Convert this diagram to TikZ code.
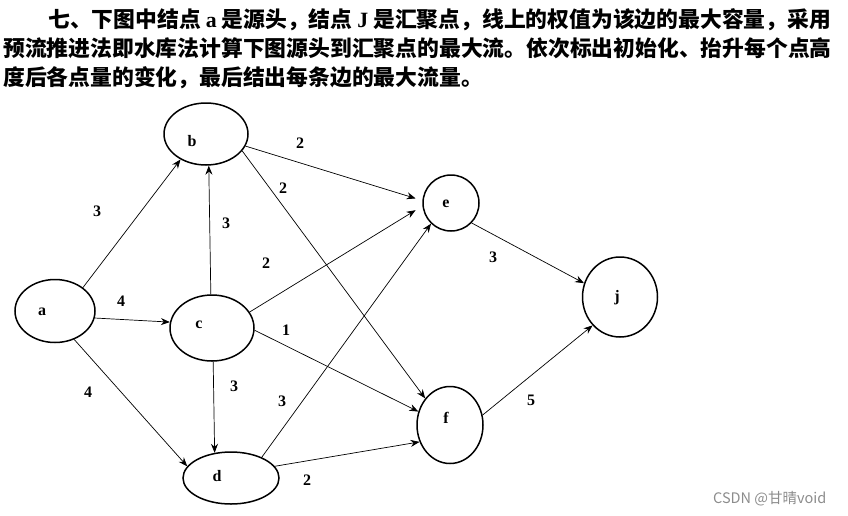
\documentclass[tikz,border=0pt]{standalone}
\usepackage{fontspec}
\setmainfont{Liberation Serif}
\newfontfamily\cjk{Noto Sans CJK SC}
\usetikzlibrary{arrows.meta,shapes.geometric}
\begin{document}
\begin{tikzpicture}[x=1pt,y=-1pt,
  vtx/.style={draw,ellipse,line width=1.5pt,inner sep=0pt},
  vlab/.style={inner sep=0pt,font=\fontsize{16}{16}\selectfont\bfseries},
  wlab/.style={inner sep=0pt,font=\fontsize{16}{16}\selectfont\bfseries},
  edge/.style={line width=0.7pt,-{Stealth[length=9pt,width=7pt,inset=3pt]}},
  hdr/.style={anchor=base west,inner sep=0pt,font=\cjk\fontsize{21.8}{21.8}\selectfont\bfseries}]
\useasboundingbox (0,0) rectangle (848,515);
% header text
\node[hdr] (t1) at (48,27) {七、下图中结点 {\rmfamily a} 是源头，结点 {\rmfamily J} 是汇聚点，线上的权值为该边的最大容量，采用};
\node[hdr] (t2) at (3,56) {预流推进法即水库法计算下图源头到汇聚点的最大流。依次标出初始化、抬升每个点高};
\node[hdr] (t3) at (3,85) {度后各点量的变化，最后结出每条边的最大流量。};
% vertices
\node[vtx,minimum width=80pt,minimum height=63pt] (a) at (55,311) {};
\node[vtx,minimum width=84pt,minimum height=62pt] (b) at (206,134) {};
\node[vtx,minimum width=84pt,minimum height=66pt] (c) at (212,328) {};
\node[vtx,minimum width=96pt,minimum height=52pt] (d) at (231,478) {};
\node[vtx,minimum width=56pt,minimum height=56pt] (e) at (451,203) {};
\node[vtx,minimum width=66pt,minimum height=77pt] (f) at (450,425) {};
\node[vtx,minimum width=75pt,minimum height=80pt] (j) at (620,297) {};
% vertex letters
\node[vlab] (la) at (42,312) {a};
\node[vlab] (lb) at (192,141) {b};
\node[vlab] (lc) at (199,325) {c};
\node[vlab] (ld) at (217,476) {d};
\node[vlab] (le) at (446,204) {e};
\node[vlab] (lf) at (446,418) {f};
\node[vlab] (lj) at (617,298) {j};
% edges
\draw[edge] (a.40) -- (b.225);
\draw[edge] (a.-10) -- (c.172);
\draw[edge] (a.-56) -- (d.165);
\draw[edge] (c.92) -- (b.-85);
\draw[edge] (c.-88) -- (d.123);
\draw[edge,shorten >=7pt] (b.-17) -- (e.175);
\draw[edge] (b.-25) -- (f.133);
\draw[edge,shorten >=8pt] (c.23) -- (e.186);
\draw[edge] (c.-3) -- (f.157);
\draw[edge] (d.34) -- (e.226);
\draw[edge] (d.15) -- (f.209);
\draw[edge] (e.-44) -- (j.159);
\draw[edge] (f.17) -- (j.226);
% capacities
\node[wlab] (w1) at (97,211) {3};
\node[wlab] (w2) at (121,301) {4};
\node[wlab] (w3) at (88,392) {4};
\node[wlab] (w4) at (226,223) {3};
\node[wlab] (w5) at (234,386) {3};
\node[wlab] (w6) at (300,143) {2};
\node[wlab] (w7) at (283,188) {2};
\node[wlab] (w8) at (266,263) {2};
\node[wlab] (w9) at (286,330) {1};
\node[wlab] (w10) at (282,401) {3};
\node[wlab] (w11) at (307,480) {2};
\node[wlab] (w12) at (493,257) {3};
\node[wlab] (w13) at (531,400) {5};
% watermark
\node[anchor=base west,inner sep=0pt,text=black!45,font=\cjk\fontsize{14.5}{14.5}\selectfont] (wm) at (713,503) {CSDN @甘晴void};
\end{tikzpicture}
\end{document}
